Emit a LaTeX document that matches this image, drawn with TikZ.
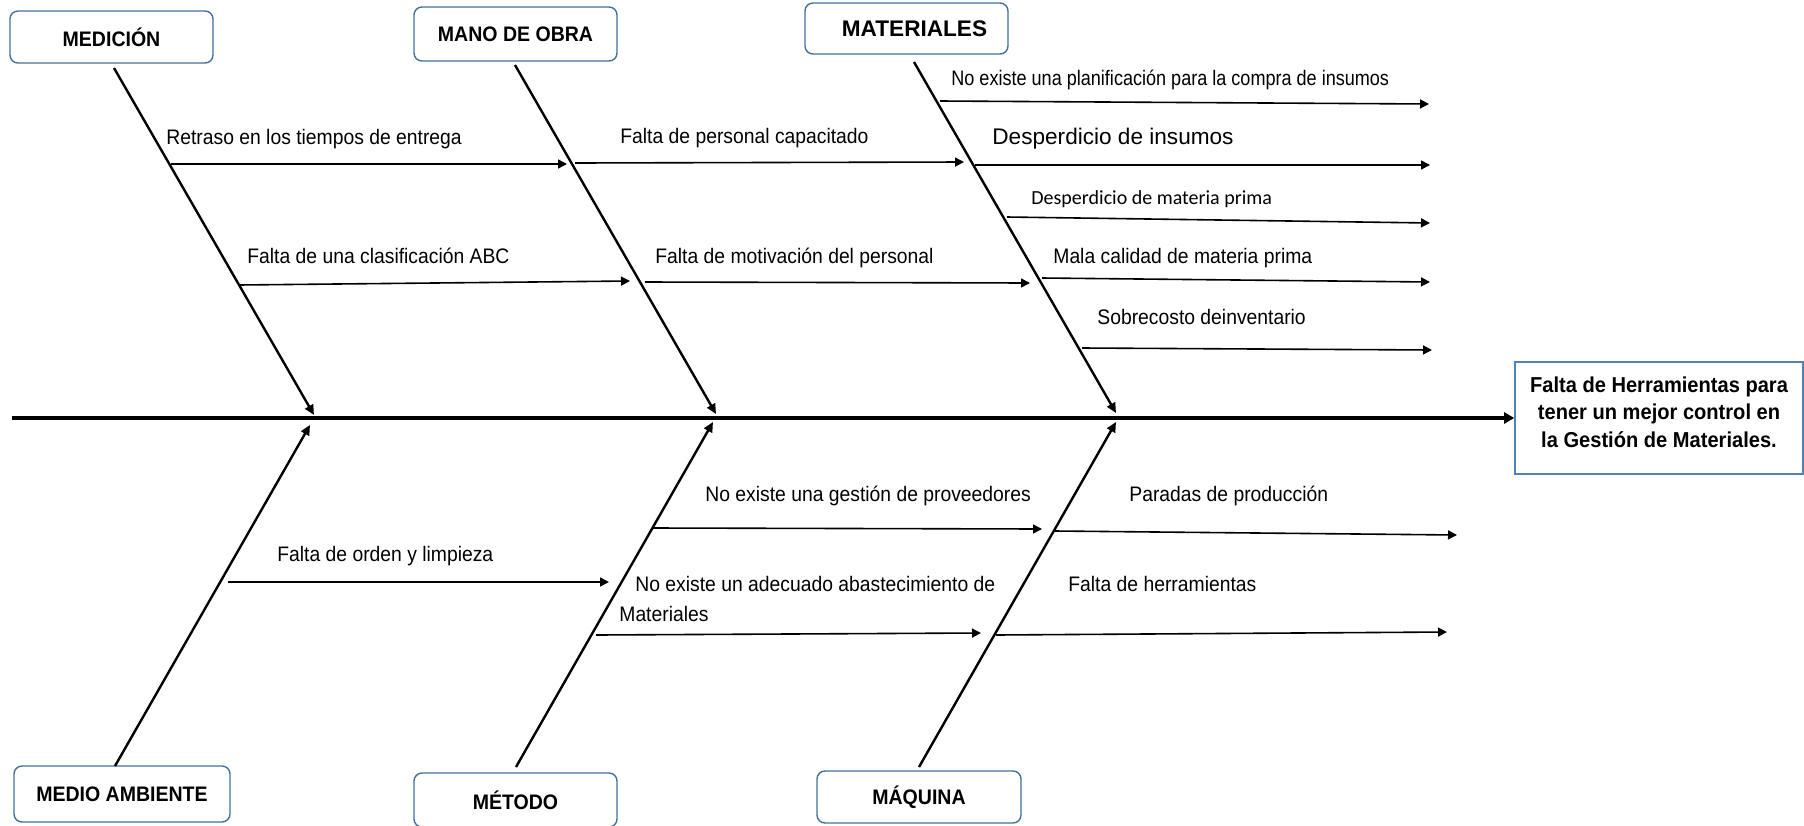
\documentclass[tikz,border=0pt]{standalone}
\usepackage{fontspec}
\setmainfont{Liberation Sans}
\newfontfamily\lblfont{Liberation Sans}[FakeStretch=0.92]
\newfontfamily\lblnarrow{Liberation Sans}[FakeStretch=0.86]
\newfontfamily\catfont{Liberation Sans}[FakeStretch=0.93]
\newfontfamily\calfont{Carlito}
\usetikzlibrary{arrows.meta}
\definecolor{catblue}{RGB}{65,113,156}
\definecolor{effblue}{RGB}{79,129,189}
\tikzset{
  catbox/.style={draw=catblue, line width=0.7pt, rounded corners=4pt, fill=white, inner sep=0pt,
    font=\catfont\bfseries\fontsize{10.5}{12}\selectfont},
  effbox/.style={draw=effblue, line width=0.8pt, fill=white, inner sep=0pt,
    minimum width=144pt, minimum height=56pt},
  efftext/.style={inner sep=0pt, align=center,
    font=\catfont\bfseries\fontsize{10.8}{13.75}\selectfont},
  bone/.style={line width=1.2pt, -{Triangle[length=5pt,width=4.5pt]}},
  subarrow/.style={line width=0.8pt, -{Triangle[length=4.5pt,width=4.5pt]}},
  axisline/.style={line width=2.3pt, -{Triangle[length=5pt,width=5.5pt]}},
  lbl/.style={anchor=base west, inner sep=0pt, font=\lblfont\fontsize{10.5}{12}\selectfont},
}
\begin{document}
\begin{tikzpicture}[x=0.5pt,y=-0.5pt]
\useasboundingbox (0,0) rectangle (1804,825);

% category boxes
\node[catbox, minimum width=101.5pt, minimum height=26pt] (med) at (111.5,37) {MEDICIÓN\hspace{6pt}};
\node[catbox, minimum width=101.5pt, minimum height=27pt] (mano) at (515.5,34) {MANO DE OBRA};
\node[catbox, minimum width=101.5pt, minimum height=25.5pt, font=\bfseries\fontsize{11.3}{13}\selectfont] (mat) at (906.5,28.5) {\hspace{8pt}MATERIALES};
\node[catbox, minimum width=108pt, minimum height=28pt] (amb) at (122,794) {MEDIO AMBIENTE};
\node[catbox, minimum width=101.5pt, minimum height=27pt] (met) at (515.5,800) {MÉTODO};
\node[catbox, minimum width=102pt, minimum height=26pt] (maq) at (919,797) {MÁQUINA};

% effect box
\node[effbox] (eff) at (1659,418) {};
\node[efftext] (efftxt) at (1659,412) {Falta de Herramientas para\\tener un mejor control en\\la Gestión de Materiales.};

% main axis
\coordinate (axs) at (12,418);
\draw[axisline] (axs) -- (eff.west);

% bones
\coordinate (b1s) at (114,68);   \coordinate (b1e) at (314,415);
\coordinate (b2s) at (515,65);   \coordinate (b2e) at (716,414);
\coordinate (b3s) at (914,62);   \coordinate (b3e) at (1116,413);
\coordinate (b4s) at (115,766);  \coordinate (b4e) at (310,425);
\coordinate (b5s) at (516,767);  \coordinate (b5e) at (713,422);
\coordinate (b6s) at (919,767);  \coordinate (b6e) at (1116,422);
\draw[bone] (b1s) -- (b1e);
\draw[bone] (b2s) -- (b2e);
\draw[bone] (b3s) -- (b3e);
\draw[bone] (b4s) -- (b4e);
\draw[bone] (b5s) -- (b5e);
\draw[bone] (b6s) -- (b6e);

% sub-cause arrows
\coordinate (s1a) at (171,164);  \coordinate (s1b) at (567,164);
\coordinate (s2a) at (239,285);  \coordinate (s2b) at (630,281);
\coordinate (s3a) at (575,163);  \coordinate (s3b) at (964,162);
\coordinate (s4a) at (645,282);  \coordinate (s4b) at (1030,283);
\coordinate (s5a) at (940,101);  \coordinate (s5b) at (1429,104);
\coordinate (s6a) at (975,165);  \coordinate (s6b) at (1430,165);
\coordinate (s7a) at (1007,217); \coordinate (s7b) at (1430,223);
\coordinate (s8a) at (1042,278); \coordinate (s8b) at (1430,282);
\coordinate (s9a) at (1082,348); \coordinate (s9b) at (1432,350);
\coordinate (s10a) at (228,582); \coordinate (s10b) at (609,582);
\coordinate (s11a) at (653,528); \coordinate (s11b) at (1042,529);
\coordinate (s12a) at (596,635); \coordinate (s12b) at (981,633);
\coordinate (s13a) at (1055,531); \coordinate (s13b) at (1457,535);
\coordinate (s14a) at (996,635); \coordinate (s14b) at (1447,632);
\foreach \i in {1,...,14} {\draw[subarrow] (s\i a) -- (s\i b);}

% labels
\node[lbl] (t1) at (166,144) {Retraso en los tiempos de entrega};
\node[lbl] (t2) at (247,263) {Falta de una clasificación ABC};
\node[lbl] (t3) at (620,143) {Falta de personal capacitado};
\node[lbl] (t4) at (655,263) {Falta de motivación del personal};
\node[lbl, font=\lblnarrow\fontsize{10.5}{12}\selectfont] (t5) at (951,85) {No existe una planificación para la compra de insumos};
\node[lbl, font=\fontsize{11.3}{13}\selectfont] (t6) at (992,144) {Desperdicio de insumos};
\node[lbl, font=\calfont\fontsize{10}{12}\selectfont] (t7) at (1031,204) {Desperdicio de materia prima};
\node[lbl] (t8) at (1053,263) {Mala calidad de materia prima};
\node[lbl] (t9) at (1097,324) {Sobrecosto deinventario};
\node[lbl] (t10) at (277,561) {Falta de orden y limpieza};
\node[lbl] (t11) at (705,501) {No existe una gestión de proveedores};
\node[lbl] (t12) at (635,591) {No existe un adecuado abastecimiento de};
\node[lbl] (t12b) at (619,621) {Materiales};
\node[lbl] (t13) at (1129,501) {Paradas de producción};
\node[lbl] (t14) at (1068,591) {Falta de herramientas};
\end{tikzpicture}
\end{document}
